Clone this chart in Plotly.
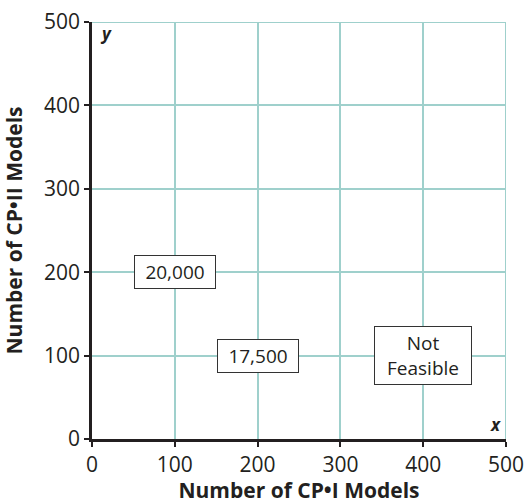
import plotly.graph_objects as go

x_ticks = [0, 100, 200, 300, 400, 500]
y_ticks = [0, 100, 200, 300, 400, 500]
label_x = [100, 200, 400]
label_y = [200, 100, 100]
label_text = ["20,000", "17,500", "Not<br>Feasible"]
label_width = [74, 74, 90]

fig = go.Figure()
fig.add_trace(go.Scatter(x=[0, 500], y=[0, 500], mode="markers",
                         marker=dict(opacity=0), hoverinfo="skip", showlegend=False))

font_family = "Open Sans, Noto Sans, sans-serif"
grid_color = "#9fd0cc"
txt = "#231f20"

for x, y, t, w in zip(label_x, label_y, label_text, label_width):
    fig.add_annotation(x=x, y=y, text=t, showarrow=False, width=w,
                       font=dict(family=font_family, size=19, color=txt),
                       bgcolor="white", bordercolor="#333", borderwidth=1,
                       borderpad=3)

fig.add_annotation(x=0, y=500, xanchor="left", yanchor="top", xshift=6, yshift=2,
                   text="<b><i>y</i></b>", showarrow=False,
                   font=dict(family=font_family, size=17, color=txt))
fig.add_annotation(x=500, y=0, xanchor="right", yanchor="bottom", xshift=-3, yshift=1,
                   text="<b><i>x</i></b>", showarrow=False,
                   font=dict(family=font_family, size=17, color=txt))

fig.update_xaxes(range=[0, 500], tickvals=x_ticks, showgrid=True, gridcolor=grid_color,
                 gridwidth=2, zeroline=False, showline=True, linecolor=txt, linewidth=2.5,
                 ticks="outside", ticklen=5, tickwidth=2, tickcolor=txt,
                 ticklabeloverflow="allow",
                 tickfont=dict(family=font_family, size=21, color=txt),
                 title=dict(text="<b>Number of CP•I Models</b>", standoff=13,
                            font=dict(family=font_family, size=21, color=txt)))
fig.update_yaxes(range=[0, 500], tickvals=y_ticks, showgrid=True, gridcolor=grid_color,
                 gridwidth=2, zeroline=False, showline=True, linecolor=txt, linewidth=2.5,
                 ticks="outside", ticklen=5, tickwidth=2, tickcolor=txt,
                 ticklabeloverflow="allow",
                 tickfont=dict(family=font_family, size=21, color=txt),
                 title=dict(text="<b>Number of CP•II Models</b>", standoff=18,
                            font=dict(family=font_family, size=21, color=txt)))

fig.add_shape(type="line", x0=0, x1=500, y0=500, y1=500, xref="x", yref="y",
              line=dict(color=grid_color, width=2), layer="below")
fig.add_shape(type="line", x0=500, x1=500, y0=0, y1=500, xref="x", yref="y",
              line=dict(color=grid_color, width=2), layer="below")

fig.update_layout(width=527, height=504,
                  margin=dict(l=92, r=21, t=22, b=65, autoexpand=False),
                  plot_bgcolor="white", paper_bgcolor="white", showlegend=False)

fig.write_html("out.html", config={"displayModeBar": False},
               post_script="document.body.style.margin='0';document.body.style.overflow='hidden';")
